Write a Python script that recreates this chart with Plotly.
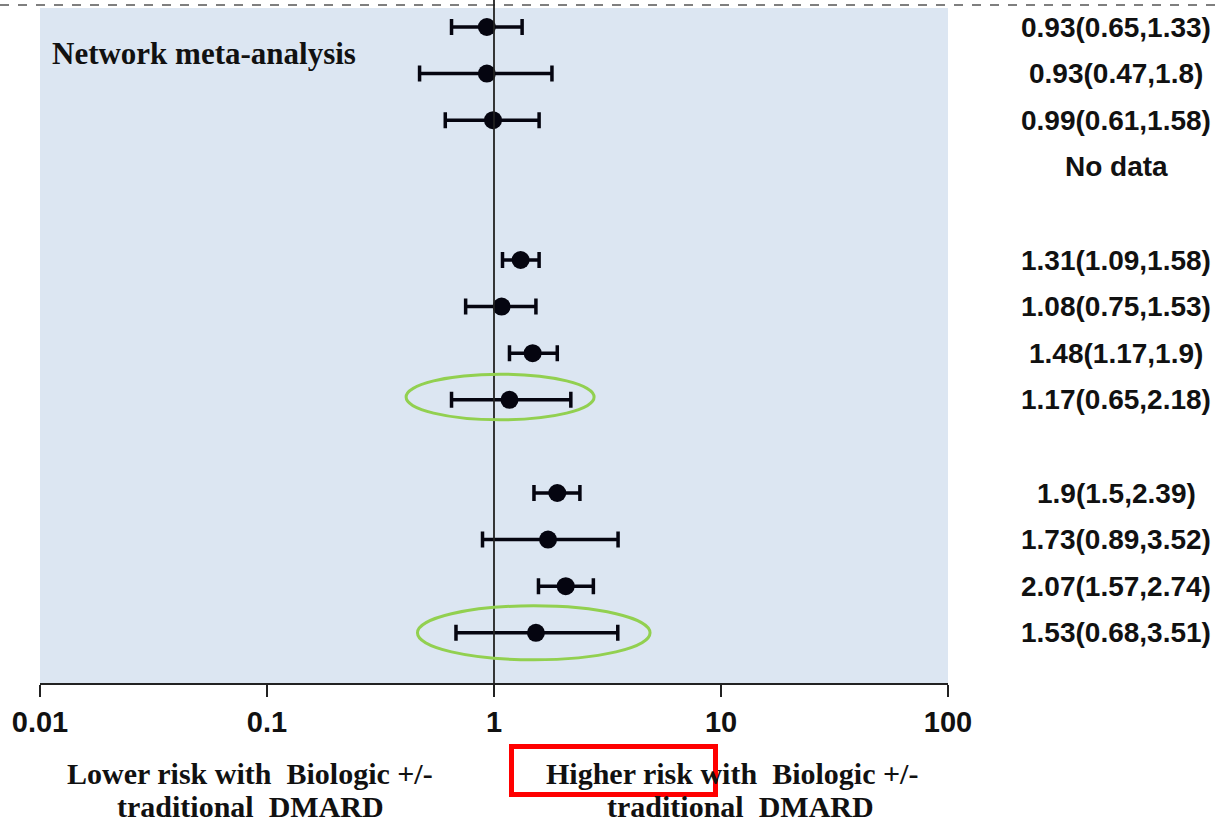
import plotly.graph_objects as go

# ---- data ----
row_index = [0, 1, 2, 3, 5, 6, 7, 8, 10, 11, 12, 13]
estimate = [0.93, 0.93, 0.99, None, 1.31, 1.08, 1.48, 1.17, 1.9, 1.73, 2.07, 1.53]
lower_ci = [0.65, 0.47, 0.61, None, 1.09, 0.75, 1.17, 0.65, 1.5, 0.89, 1.57, 0.68]
upper_ci = [1.33, 1.8, 1.58, None, 1.58, 1.53, 1.9, 2.18, 2.39, 3.52, 2.74, 3.51]
tick_values = [0.01, 0.1, 1, 10, 100]
tick_labels = ["0.01", "0.1", "1", "10", "100"]
highlighted_rows = [8, 13]

# ---- layout constants ----
W, H = 1216, 825
ML, MR, MT, MB = 40, 268, 0, 142
plot_w = W - ML - MR
plot_h = H - MT - MB

def px_x(px):
    return (px - ML) / plot_w

def px_y(py):
    return (plot_h - (py - MT)) / plot_h

xs, ys, ep, em = [], [], [], []
for r, e, lo, hi in zip(row_index, estimate, lower_ci, upper_ci):
    if e is None:
        continue
    xs.append(e)
    ys.append(r)
    ep.append(hi - e)
    em.append(e - lo)

labels = []
for e, lo, hi in zip(estimate, lower_ci, upper_ci):
    labels.append("No data" if e is None else f"{e}({lo},{hi})")

fig = go.Figure()
fig.add_trace(go.Scatter(
    x=xs, y=ys, mode="markers",
    marker=dict(size=18, color="#050510"),
    error_x=dict(type="data", symmetric=False, array=ep, arrayminus=em,
                 color="#050510", thickness=3.5, width=8),
    showlegend=False, hoverinfo="x+y",
))

shapes = []
# blue panel
shapes.append(dict(type="rect", xref="paper", yref="paper", x0=0, x1=1, y0=0, y1=px_y(8),
                   fillcolor="#dce6f2", line=dict(width=0), layer="below"))
# dashed top line
shapes.append(dict(type="line", xref="paper", yref="paper", x0=px_x(0), x1=px_x(W),
                   y0=px_y(5), y1=px_y(5), line=dict(color="#555555", width=1.5, dash="dash")))
# null line at 1
shapes.append(dict(type="line", xref="x", yref="paper", x0=1, x1=1, y0=0, y1=1,
                   line=dict(color="#222222", width=1.8)))
# green ellipses around highlighted rows
ell = {8: (0.41, 2.76, 7.45, 8.43), 13: (0.46, 4.87, 12.42, 13.58)}
for r in highlighted_rows:
    x0, x1, y0, y1 = ell[r]
    shapes.append(dict(type="circle", xref="x", yref="y", x0=x0, x1=x1, y0=y0, y1=y1,
                       line=dict(color="#92d050", width=3)))
# red box
shapes.append(dict(type="rect", xref="paper", yref="paper", x0=px_x(511.5), x1=px_x(715.5),
                   y0=px_y(746.5), y1=px_y(794.5), line=dict(color="#ff0000", width=5)))

annotations = []
for r, t in zip(row_index, labels):
    annotations.append(dict(xref="paper", yref="y", x=px_x(1116), y=r, text=f"<b>{t}</b>",
                            showarrow=False, xanchor="center", yanchor="middle",
                            font=dict(family="Liberation Sans, Arial", size=28, color="#111111")))
annotations.append(dict(xref="paper", yref="paper", x=px_x(50), y=px_y(53),
                        text="<b>Network meta-analysis</b>", showarrow=False,
                        xanchor="left", yanchor="middle",
                        font=dict(family="Liberation Serif, Times New Roman", size=31, color="#111111")))
serif = dict(family="Liberation Serif, Times New Roman", size=30, color="#111111")
for x, y, t in [(250, 773, "Lower risk with&nbsp; Biologic +/-"),
                (250, 806, "traditional&nbsp; DMARD"),
                (732, 773, "Higher risk with&nbsp; Biologic +/-"),
                (740, 806, "traditional&nbsp; DMARD")]:
    annotations.append(dict(xref="paper", yref="paper", x=px_x(x), y=px_y(y), text=f"<b>{t}</b>",
                            showarrow=False, xanchor="center", yanchor="middle", font=serif))

row_px0, row_step = 27, 46.6
fig.update_layout(
    width=W, height=H,
    margin=dict(l=ML, r=MR, t=MT, b=MB, pad=0),
    paper_bgcolor="white", plot_bgcolor="white",
    shapes=shapes, annotations=annotations,
    xaxis=dict(type="log", range=[-2, 2], tickvals=tick_values,
               ticktext=[f"<b>{t}</b>" for t in tick_labels],
               ticks="outside", ticklen=12, tickwidth=1.5, tickcolor="#222222",
               showline=True, linecolor="#222222", linewidth=2,
               showgrid=False, zeroline=False,
               tickfont=dict(family="Liberation Sans, Arial", size=29, color="#111111")),
    yaxis=dict(range=[(plot_h - row_px0) / row_step, -row_px0 / row_step],
               showticklabels=False, showgrid=False, zeroline=False, showline=False, ticks=""),
)

fig.write_html("out.html")
